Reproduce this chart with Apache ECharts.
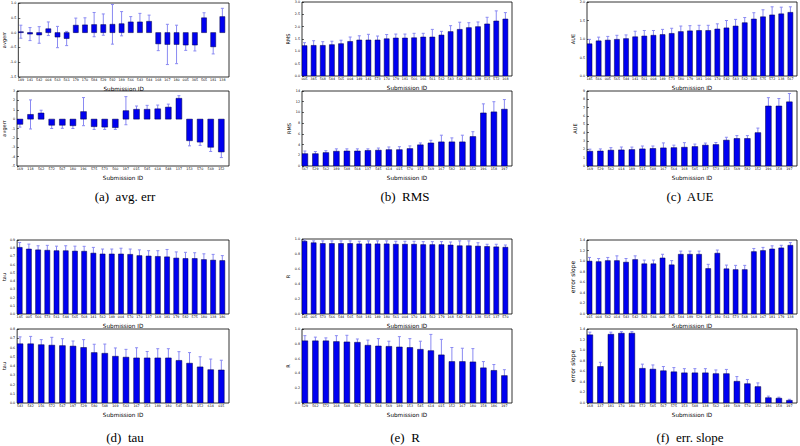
<!DOCTYPE html>
<html><head><meta charset="utf-8">
<script src="https://cdn.jsdelivr.net/npm/echarts@6/dist/echarts.min.js"></script>
<style>html,body{margin:0;padding:0;background:#fff}#c{width:800px;height:446px}</style>
</head><body><div id="c"></div>
<script>
// (a) avg. err
const aTopIds = ['149','141','542','004','563','561','179','170','584','529','592','189','566','543','544','168','167','180','005','345','565','181','138'];
const aTopVals = [0.03,-0.05,-0.08,0.13,-0.15,-0.2,0.25,0.26,0.27,0.27,0.28,0.3,0.36,0.36,0.38,-0.38,-0.4,-0.4,-0.42,-0.42,0.5,-0.48,0.54];
const aTopErrs = [0.22,0.22,0.28,0.23,0.36,0.24,0.24,0.24,0.41,0.36,0.67,0.41,0.18,0.29,0.21,0.23,0.68,0.65,0.18,0.2,0.17,0.24,0.28];
const aBotIds = ['169','118','562','572','567','180','196','575','573','560','197','015','545','614','548','137','153','570','569','152'];
const aBotVals = [-0.55,0.5,0.65,-0.65,-0.65,-0.7,0.8,-0.8,-0.85,-0.9,0.9,1.05,1.05,1.1,1.28,2.22,-2.3,-2.45,-3.0,-3.5];
const aBotErrs = [0.3,1.55,0.3,0.35,0.33,0.3,1.5,0.3,0.25,0.2,1.5,0.35,0.42,0.4,0.32,0.28,0.55,0.35,0.45,0.6];
// (b) RMS
const bTopIds = ['005','345','568','544','565','004','149','141','573','170','179','181','566','166','561','562','543','542','180','138','515','572','168'];
const bTopVals = [1.23,1.24,1.24,1.27,1.31,1.4,1.46,1.46,1.46,1.51,1.54,1.54,1.55,1.58,1.58,1.66,1.8,1.89,1.96,2.0,2.11,2.23,2.31];
const bTopErrs = [0.12,0.19,0.15,0.14,0.14,0.18,0.17,0.23,0.16,0.17,0.16,0.16,0.18,0.15,0.31,0.15,0.24,0.29,0.2,0.19,0.27,0.41,0.26];
const bBotIds = ['567','529','562','189','548','564','137','545','614','015','570','153','569','167','582','168','152','196','158','197'];
const bBotVals = [2.3,2.3,2.5,2.75,2.8,2.8,2.9,2.95,3.05,3.05,3.25,3.95,4.3,4.5,4.5,4.5,5.5,9.9,10.1,10.6];
const bBotErrs = [0.5,0.4,0.35,0.45,0.4,0.4,0.3,0.4,0.5,0.55,0.5,0.35,0.5,1.25,0.75,1.25,0.9,1.7,1.9,1.8];
// (c) AUE
const cTopIds = ['145','566','005','565','544','141','561','004','149','573','580','179','181','166','170','542','543','562','180','575','572','138','567'];
const cTopVals = [0.87,0.95,0.97,0.99,1.01,1.06,1.08,1.1,1.12,1.15,1.2,1.22,1.23,1.23,1.27,1.3,1.35,1.44,1.54,1.6,1.65,1.68,1.72];
const cTopErrs = [0.12,0.1,0.1,0.11,0.1,0.15,0.15,0.13,0.14,0.14,0.15,0.14,0.14,0.14,0.14,0.2,0.18,0.14,0.17,0.19,0.22,0.18,0.15];
const cBotIds = ['169','529','562','014','189','515','548','167','564','168','545','137','573','153','569','582','152','196','158','197'];
const cBotVals = [1.77,1.8,1.9,1.93,1.97,2.05,2.1,2.17,2.2,2.25,2.33,2.5,2.57,3.1,3.3,3.3,4.0,7.2,7.2,7.7];
const cBotErrs = [0.25,0.25,0.3,0.35,0.3,0.35,0.3,0.6,0.3,0.55,0.3,0.25,0.25,0.35,0.35,0.35,0.55,1.0,0.9,1.0];
// (d) tau
const dTopIds = ['145','005','566','573','561','544','565','568','141','562','149','004','570','170','137','168','181','179','582','575','180','138','186'];
const dTopVals = [0.81,0.79,0.78,0.775,0.77,0.77,0.765,0.763,0.74,0.73,0.73,0.73,0.725,0.71,0.705,0.7,0.695,0.68,0.675,0.675,0.662,0.655,0.65];
const dTopErrs = [0.06,0.06,0.05,0.06,0.055,0.06,0.06,0.06,0.07,0.06,0.06,0.07,0.065,0.07,0.065,0.07,0.09,0.075,0.075,0.07,0.07,0.07,0.06];
const dBotIds = ['543','542','156','572','567','197','529','580','548','169','563','167','153','189','180','545','564','152','614','015'];
const dBotVals = [0.64,0.64,0.63,0.625,0.62,0.615,0.6,0.545,0.537,0.505,0.495,0.487,0.487,0.487,0.487,0.46,0.43,0.39,0.36,0.357];
const dBotErrs = [0.075,0.08,0.055,0.085,0.075,0.055,0.085,0.09,0.1,0.09,0.085,0.11,0.07,0.1,0.1,0.095,0.115,0.11,0.115,0.105];
// (e) R
const eTopIds = ['145','005','573','566','544','565','568','181','149','180','561','004','170','141','562','179','168','542','543','138','515','137','570'];
const eTopVals = [0.97,0.95,0.94,0.94,0.94,0.94,0.935,0.935,0.935,0.935,0.93,0.93,0.93,0.925,0.925,0.925,0.92,0.91,0.91,0.905,0.9,0.895,0.89];
const eTopErrs = [0.015,0.025,0.035,0.035,0.035,0.035,0.035,0.04,0.04,0.04,0.04,0.04,0.04,0.04,0.04,0.04,0.04,0.065,0.065,0.045,0.03,0.035,0.03];
const eBotIds = ['529','562','572','168','548','567','563','564','569','189','153','545','614','015','152','167','180','158','186','197'];
const eBotVals = [0.84,0.84,0.84,0.83,0.825,0.82,0.78,0.77,0.765,0.757,0.75,0.725,0.707,0.65,0.56,0.56,0.555,0.475,0.44,0.37];
const eBotErrs = [0.07,0.05,0.04,0.08,0.09,0.045,0.07,0.1,0.07,0.14,0.12,0.11,0.22,0.21,0.19,0.18,0.18,0.085,0.08,0.08];
// (f) err. slope
const fTopIds = ['015','004','562','014','543','542','563','566','005','565','544','189','529','145','180','561','573','568','168','167','181','179','138'];
const fTopVals = [1.0,0.99,1.01,1.01,0.98,1.03,0.95,0.95,1.06,0.93,1.13,1.13,1.13,0.86,1.15,0.855,0.84,0.84,1.18,1.2,1.23,1.25,1.3];
const fTopErrs = [0.07,0.06,0.06,0.09,0.07,0.07,0.07,0.07,0.07,0.08,0.06,0.06,0.06,0.08,0.06,0.07,0.08,0.08,0.06,0.06,0.06,0.05,0.05];
const fBotIds = ['168','137','181','170','180','572','545','567','575','153','548','138','562','149','569','570','152','186','158','197'];
const fBotVals = [1.29,0.69,1.3,1.32,1.32,0.655,0.64,0.61,0.59,0.57,0.57,0.57,0.555,0.555,0.41,0.365,0.31,0.1,0.09,0.05];
const fBotErrs = [0.05,0.08,0.04,0.03,0.03,0.08,0.08,0.08,0.08,0.08,0.08,0.08,0.07,0.08,0.09,0.08,0.07,0.03,0.02,0.02];

// y-axis ranges [min, max, interval, decimals]
const aTopY = [-1.5, 1.0, 0.5, 1], aBotY = [-5, 3, 1, 0];
const bTopY = [0, 3.0, 0.5, 1], bBotY = [0, 14, 2, 0];
const cTopY = [0, 2.0, 0.5, 1], cBotY = [0, 9, 1, 0];
const dTopY = [0, 0.9, 0.1, 1], dBotY = [0, 0.8, 0.1, 1];
const eTopY = [0, 1.0, 0.2, 1], eBotY = [0, 1.0, 0.2, 1];
const fTopY = [0, 1.4, 0.2, 1], fBotY = [0, 1.4, 0.2, 1];

const yNames = ['avgerr','avgerr','RMS','RMS','AUE','AUE','tau','tau','R','R','error slope','error slope'];
const captions = ['(a)  avg. err','(b)  RMS','(c)  AUE','(d)  tau','(e)  R','(f)  err. slope'];

const panels = [
  {ids:aTopIds, vals:aTopVals, errs:aTopErrs, y:aTopY, g:[18,3,211,74], yGap:12},
  {ids:aBotIds, vals:aBotVals, errs:aBotErrs, y:aBotY, g:[17,91,212,75], yGap:11},
  {ids:bTopIds, vals:bTopVals, errs:bTopErrs, y:bTopY, g:[302,2,210,74], yGap:10},
  {ids:bBotIds, vals:bBotVals, errs:bBotErrs, y:bBotY, g:[302,91,210,75], yGap:10},
  {ids:cTopIds, vals:cTopVals, errs:cTopErrs, y:cTopY, g:[587,2,210,74], yGap:10},
  {ids:cBotIds, vals:cBotVals, errs:cBotErrs, y:cBotY, g:[587,91,210,75], yGap:10},
  {ids:dTopIds, vals:dTopVals, errs:dTopErrs, y:dTopY, g:[17,240,212,74], yGap:11},
  {ids:dBotIds, vals:dBotVals, errs:dBotErrs, y:dBotY, g:[17,329,212,74], yGap:11},
  {ids:eTopIds, vals:eTopVals, errs:eTopErrs, y:eTopY, g:[302,239,210,75], yGap:11},
  {ids:eBotIds, vals:eBotVals, errs:eBotErrs, y:eBotY, g:[302,329,210,74], yGap:11},
  {ids:fTopIds, vals:fTopVals, errs:fTopErrs, y:fTopY, g:[587,240,210,74], yGap:12},
  {ids:fBotIds, vals:fBotVals, errs:fBotErrs, y:fBotY, g:[587,329,210,74], yGap:12}
];

const FONT = 'DejaVu Sans';
const BAR_FRAC = 0.55;

function renderItem(params, api) {
  const i = api.value(0), v = api.value(1), e = api.value(2);
  const band = api.size([1, 0])[0];
  const c0 = api.coord([i, 0]);
  const c1 = api.coord([i, v]);
  const left = c0[0] - band / 2;
  const w = band * BAR_FRAC;
  const cx = left + w / 2;
  const yHi = api.coord([i, v + e])[1];
  const yLo = api.coord([i, v - e])[1];
  const errStyle = {stroke: '#8a8af2', lineWidth: 1};
  return {
    type: 'group',
    children: [
      {type: 'line', shape: {x1: cx, y1: yHi, x2: cx, y2: yLo}, style: errStyle},
      {type: 'line', shape: {x1: cx - 1.5, y1: yHi, x2: cx + 1.5, y2: yHi}, style: errStyle},
      {type: 'line', shape: {x1: cx - 1.5, y1: yLo, x2: cx + 1.5, y2: yLo}, style: errStyle},
      {type: 'rect', shape: {x: left, y: Math.min(c0[1], c1[1]), width: w, height: Math.abs(c1[1] - c0[1])},
       style: {fill: '#0000f0', stroke: '#000040', lineWidth: 0.5}}
    ]
  };
}

const option = {
  animation: false,
  backgroundColor: '#fff',
  grid: panels.map(p => ({left: p.g[0], top: p.g[1], width: p.g[2], height: p.g[3],
    show: true, borderColor: '#000', borderWidth: 0.8, backgroundColor: 'transparent', containLabel: false})),
  xAxis: panels.map((p, k) => {
    const band = p.g[2] / p.ids.length;
    return {
      type: 'category', gridIndex: k, data: p.ids,
      axisLine: {show: false}, axisTick: {show: false}, splitLine: {show: false},
      axisLabel: {interval: 0, fontSize: 3.3, margin: 1.5, color: '#000', fontFamily: FONT,
        padding: [0, band * (1 - BAR_FRAC) , 0, 0]},
      name: 'Submission ID', nameLocation: 'middle', nameGap: 9,
      nameTextStyle: {fontSize: 5.7, color: '#000', fontFamily: FONT}
    };
  }),
  yAxis: panels.map((p, k) => ({
    type: 'value', gridIndex: k, min: p.y[0], max: p.y[1], interval: p.y[2],
    axisLine: {show: false}, splitLine: {show: false},
    axisTick: {show: true, inside: true, length: 2, lineStyle: {color: '#000', width: 0.6}},
    axisLabel: {fontSize: 3.3, margin: 2, color: '#000', fontFamily: FONT,
      formatter: (val) => (Math.abs(val) < 1e-9 ? 0 : val).toFixed(p.y[3])},
    name: yNames[k], nameLocation: 'middle', nameGap: p.yGap, nameRotate: 90,
    nameTextStyle: {fontSize: k >= 10 ? 6 : 5, color: '#000', fontFamily: FONT}
  })),
  series: panels.map((p, k) => ({
    type: 'custom', xAxisIndex: k, yAxisIndex: k, clip: true,
    encode: {x: 0, y: 1},
    renderItem: renderItem,
    data: p.ids.map((id, i) => [i, p.vals[i], p.errs[i]])
  })),
  graphic: captions.map((t, j) => ({
    type: 'text',
    x: [125, 405, 690][j % 3],
    y: j < 3 ? 196 : 437,
    style: {text: t, fontSize: 13, fontFamily: 'Liberation Serif', fill: '#000',
      textAlign: 'center', textVerticalAlign: 'middle'}
  }))
};

const chart = echarts.init(document.getElementById('c'), null, {renderer: 'svg', width: 800, height: 446});
chart.setOption(option);
</script>
</body></html>
